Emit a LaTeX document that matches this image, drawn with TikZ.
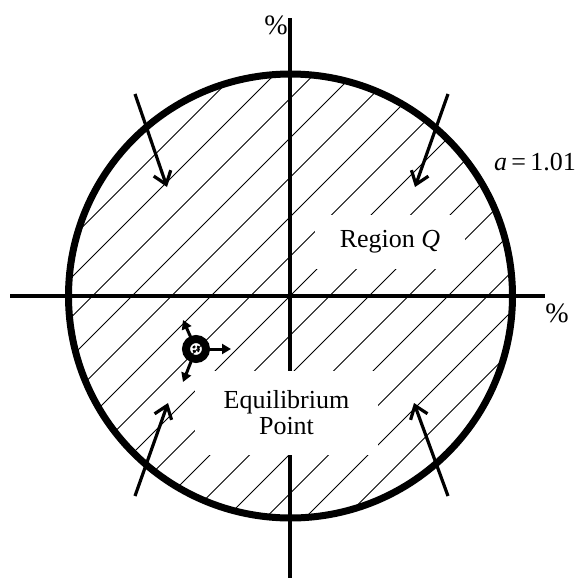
\documentclass[tikz,border=0pt]{standalone}
\usepackage{fontspec}
\setmainfont{Liberation Serif}
\usetikzlibrary{arrows.meta}
\begin{document}
\begin{tikzpicture}[x=1pt,y=-1pt,
  hatch/.style={line width=0.8pt},
  axis/.style={line width=3.2pt},
  bound/.style={line width=7pt},
  bigarrow/.style={line width=3.2pt,-{Straight Barb[length=12pt,width=18pt,line width=3.2pt]}},
  smallarrow/.style={line width=3pt,shorten <=13pt,-{Triangle[length=9pt,width=10pt]}},
  lbl/.style={font=\fontsize{26}{30}\selectfont, inner sep=0pt},
  whitebox/.style={fill=white, inner sep=0pt, align=center, font=\fontsize{26}{30}\selectfont}]
\useasboundingbox (0,0) rectangle (578,579);
\coordinate (O) at (290.5,296);
% hatching
\begin{scope}
  \clip (O) circle (222);
  \foreach \k in {-9,...,9}{
    \pgfmathsetmacro{\c}{586+39.5*\k}
    \draw[hatch] (\c,0) -- (\c-600,600);
  }
\end{scope}
% axes
\coordinate (xl) at (10,296);
\coordinate (xr) at (545,296);
\coordinate (yt) at (290,18);
\coordinate (yb) at (290,578);
\draw[axis] (xl) -- (xr);
\draw[axis] (yt) -- (yb);
% labels on white
\node[whitebox, minimum width=183pt, minimum height=84pt] (eq) at (286.5,413) {Equilibrium\\[-4pt]Point};
\node[whitebox, minimum width=150pt, minimum height=54pt] (reg) at (390,242) {Region \textit{Q}};
% boundary circle
\draw[bound] (O) circle (222);
% axis labels
\node[lbl, font=\fontsize{28}{32}\selectfont] (x2) at (276,25) {\%};
\node[lbl, font=\fontsize{28}{32}\selectfont] (x1) at (557,313) {\%};
\node[lbl] (alab) at (535,162) {\textit{a}\,=\,1.01};
% big arrows
\coordinate (a1s) at (135,94);  \coordinate (a1e) at (167,187);
\coordinate (a2s) at (448,94);  \coordinate (a2e) at (415,187);
\coordinate (a3s) at (135,496); \coordinate (a3e) at (168,403);
\coordinate (a4s) at (448,496); \coordinate (a4e) at (414,403);
\draw[bigarrow] (a1s) -- (a1e);
\draw[bigarrow] (a2s) -- (a2e);
\draw[bigarrow] (a3s) -- (a3e);
\draw[bigarrow] (a4s) -- (a4e);
% equilibrium point
\coordinate (ep) at (196,349);
\draw[line width=8pt] (ep) circle (10);
\draw[line width=2pt, dash pattern=on 3pt off 2pt] (ep) circle (3);
\coordinate (s1) at (231,349);
\coordinate (s2) at (183,320);
\coordinate (s3) at (183,382);
\draw[smallarrow] (ep) -- (s1);
\draw[smallarrow] (ep) -- (s2);
\draw[smallarrow] (ep) -- (s3);
\end{tikzpicture}
\end{document}
